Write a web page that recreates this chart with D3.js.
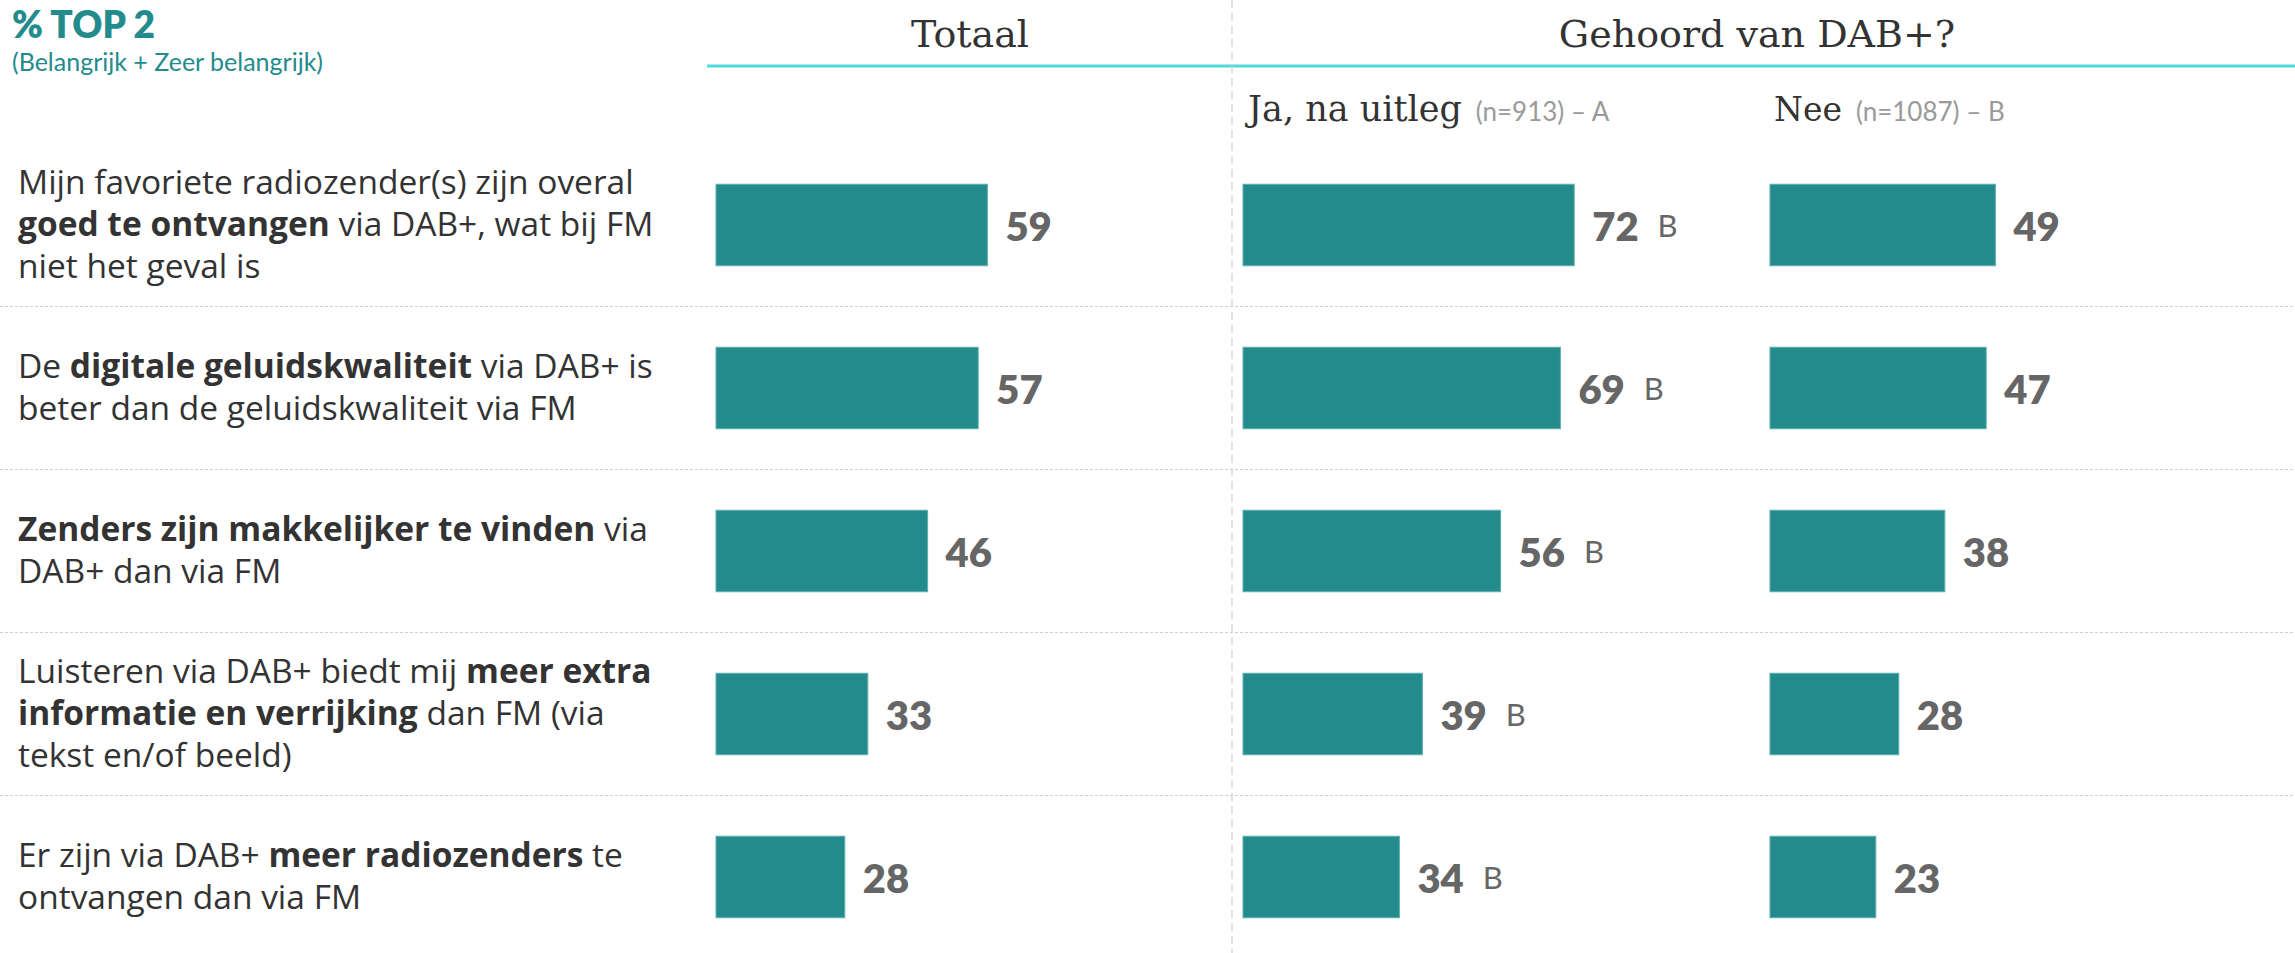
<!DOCTYPE html>
<html><head><meta charset="utf-8">
<script src="https://cdn.jsdelivr.net/npm/d3@7"></script>
<style>
html,body{margin:0;padding:0;background:#fff;}
svg{display:block;}
</style></head>
<body>
<svg id="chart" width="2295" height="953"></svg>
<script>
// ---- data ----
const categories = [
  ["Mijn favoriete radiozender(s) zijn overal", "**goed te ontvangen** via DAB+, wat bij FM", "niet het geval is"],
  ["De **digitale geluidskwaliteit** via DAB+ is", "beter dan de geluidskwaliteit via FM"],
  ["**Zenders zijn makkelijker te vinden** via", "DAB+ dan via FM"],
  ["Luisteren via DAB+ biedt mij **meer extra**", "**informatie en verrijking** dan FM (via", "tekst en/of beeld)"],
  ["Er zijn via DAB+ **meer radiozenders** te", "ontvangen dan via FM"]
];
const totaal = [59, 57, 46, 33, 28];
const jaNaUitleg = [72, 69, 56, 39, 34];
const nee = [49, 47, 38, 28, 23];
const sigJa = ["B", "B", "B", "B", "B"];
const sigNee = ["", "", "", "", ""];
const title = "% TOP 2";
const subtitle = "(Belangrijk + Zeer belangrijk)";
const groupTotal = "Totaal";
const groupHeard = "Gehoord van DAB+?";
const subHeaders = [
  {name: "Ja, na uitleg", n: "(n=913) – A"},
  {name: "Nee", n: "(n=1087) – B"}
];

// ---- layout ----
const W = 2295, H = 953;
const teal = "#238b8c", cyan = "#4fd9d9", dark = "#333333", valGrey = "#666666", lightGrey = "#9a9a9a";
const svg = d3.select("#chart");

const y = d3.scaleBand().domain(d3.range(categories.length))
  .range([143.5, 958.5]).paddingInner(0.5).paddingOuter(0.25);
const x = d3.scaleLinear().domain([0, 100]).range([0, 460]);

const columns = [
  {x0: 716, values: totaal, sig: null},
  {x0: 1243, values: jaNaUitleg, sig: sigJa},
  {x0: 1770, values: nee, sig: sigNee}
];

// header line & divider
svg.append("line").attr("x1", 707).attr("x2", W).attr("y1", 66).attr("y2", 66)
  .attr("stroke", cyan).attr("stroke-width", 3);
svg.append("line").attr("x1", 1232).attr("x2", 1232).attr("y1", 0).attr("y2", H)
  .attr("stroke", "#d0d0d0").attr("stroke-width", 1.2).attr("stroke-dasharray", "8,5");

// row separators
const seps = d3.range(1, categories.length).map(i => (y(i - 1) + y.bandwidth() + y(i)) / 2);
svg.selectAll("line.sep").data(seps).join("line").attr("class", "sep")
  .attr("x1", 0).attr("x2", W).attr("y1", d => d).attr("y2", d => d)
  .attr("stroke", "#cfcfcf").attr("stroke-width", 1.2).attr("stroke-dasharray", "3,2");

// titles
svg.append("text").attr("x", 12).attr("y", 38).text(title)
  .attr("font-family", "Lato").attr("font-weight", 800).attr("font-size", 37).attr("fill", teal);
svg.append("text").attr("x", 12).attr("y", 71).text(subtitle)
  .attr("font-family", "Lato").attr("font-size", 25).attr("fill", teal);

svg.append("text").attr("x", 970).attr("y", 47).attr("text-anchor", "middle").text(groupTotal)
  .attr("font-family", "DejaVu Serif").attr("font-size", 38).attr("fill", dark);
svg.append("text").attr("x", 1757).attr("y", 47).attr("text-anchor", "middle").text(groupHeard)
  .attr("font-family", "DejaVu Serif").attr("font-size", 38).attr("fill", dark);

const subX = [1248, 1774];
subHeaders.forEach((s, i) => {
  const t = svg.append("text").attr("x", subX[i]).attr("y", 121)
    .attr("font-family", "DejaVu Serif").attr("fill", dark);
  t.append("tspan").text(s.name).attr("font-size", i === 0 ? 35 : 33);
  t.append("tspan").attr("dx", 14).text(s.n)
    .attr("font-family", "Lato").attr("font-size", 26).attr("fill", lightGrey);
});

// category labels
const lineH = 42;
categories.forEach((lines, i) => {
  const cy = y(i) + y.bandwidth() / 2;
  lines.forEach((ln, j) => {
    const lc = cy + (j - (lines.length - 1) / 2) * lineH;
    const t = svg.append("text").attr("x", 18).attr("y", lc + 11)
      .attr("font-family", "Open Sans").attr("font-size", 33.5).attr("fill", dark);
    ln.split("**").forEach((seg, k) => {
      if (seg.length === 0) return;
      t.append("tspan").text(seg).attr("font-weight", k % 2 === 1 ? 700 : 400);
    });
  });
});

// bars
columns.forEach(col => {
  const g = svg.append("g").attr("transform", `translate(${col.x0},0)`);
  g.selectAll("rect").data(col.values).join("rect")
    .attr("x", 0).attr("y", (d, i) => y(i))
    .attr("width", d => x(d)).attr("height", y.bandwidth())
    .attr("fill", teal).attr("stroke", "#5fb0b0").attr("stroke-width", 1);
  const labels = g.selectAll("text.val").data(col.values).join("text").attr("class", "val")
    .attr("x", d => x(d) + 18).attr("y", (d, i) => y(i) + y.bandwidth() / 2 + 16)
    .attr("font-family", "Lato").attr("font-weight", 800).attr("font-size", 40).attr("fill", valGrey)
    .text(d => d);
  if (col.sig) {
    labels.each(function(d, i) {
      if (!col.sig[i]) return;
      d3.select(this).append("tspan").attr("dx", 19).attr("dy", -4).attr("font-weight", 400)
        .attr("font-size", 31).text(col.sig[i]);
    });
  }
});
</script>
</body></html>
